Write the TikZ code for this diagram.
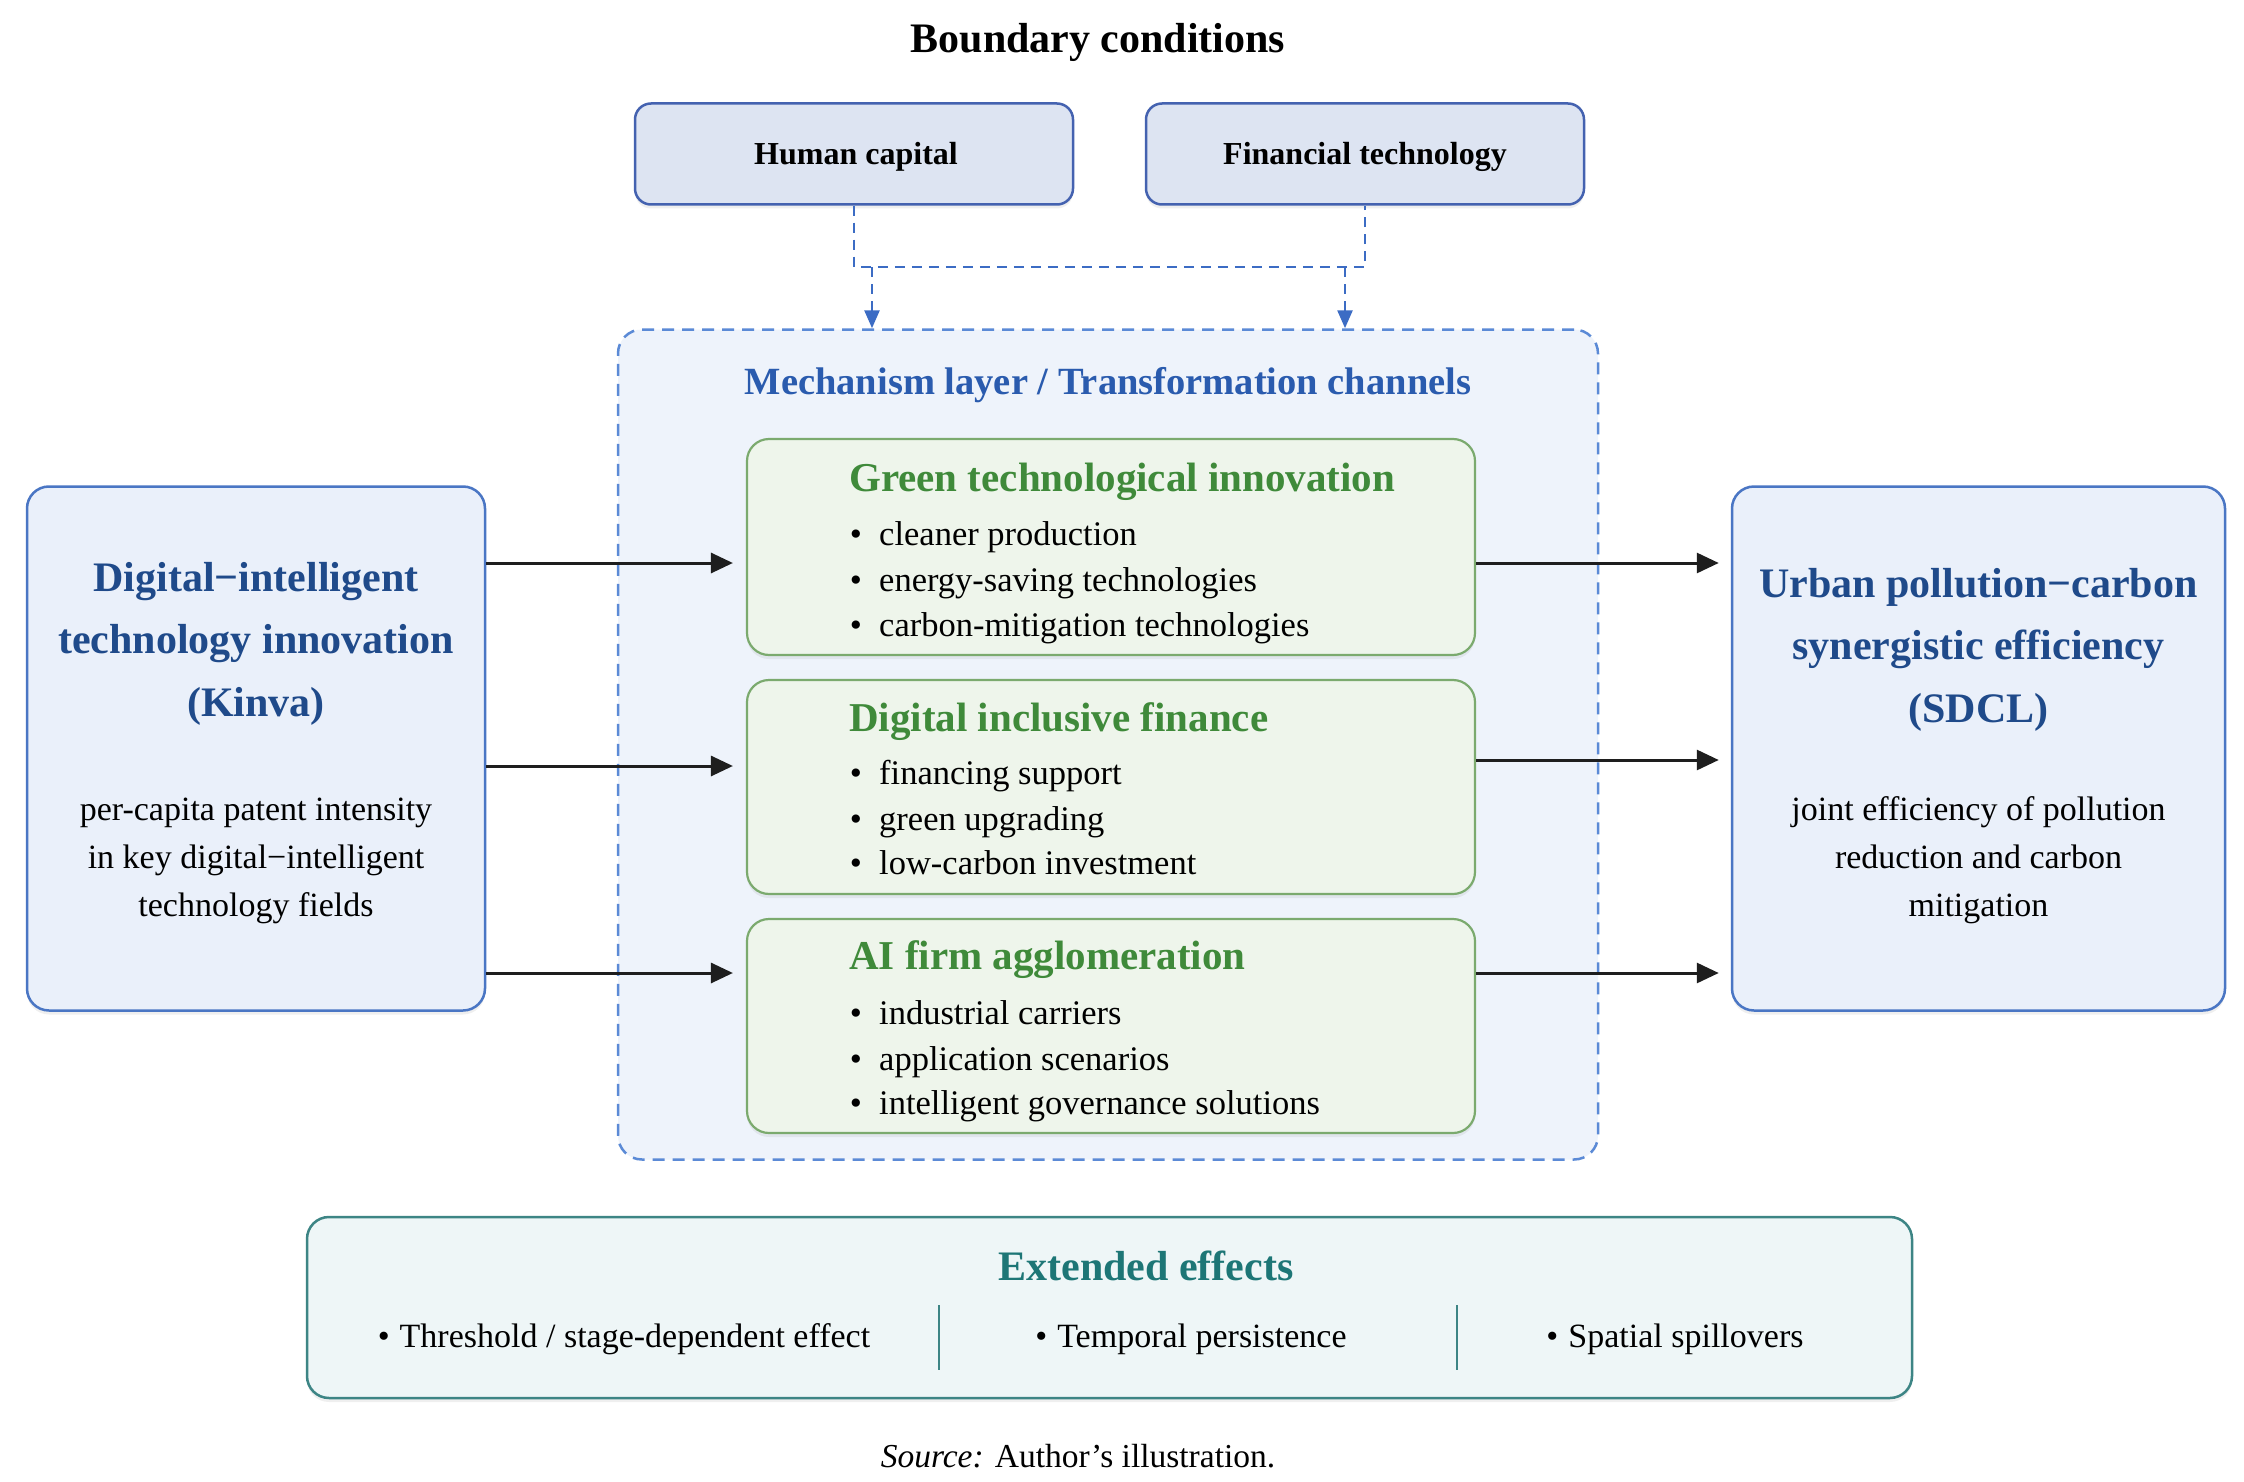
\documentclass[tikz,border=0pt]{standalone}
\usepackage{fontspec}
\setmainfont{Liberation Serif}
\usetikzlibrary{arrows.meta,shadows}
\definecolor{sideborder}{HTML}{4A76C4}
\definecolor{sidefill}{HTML}{EAF0FA}
\definecolor{topborder}{HTML}{4462B0}
\definecolor{topfill}{HTML}{DDE4F2}
\definecolor{mechborder}{HTML}{5B8AD6}
\definecolor{dashblue}{HTML}{3C6CC4}
\definecolor{mechfill}{HTML}{EEF3FB}
\definecolor{mechtitle}{HTML}{2A5BAE}
\definecolor{greenborder}{HTML}{7BAA6E}
\definecolor{greenfill}{HTML}{EEF5EB}
\definecolor{greentext}{HTML}{3F8A3A}
\definecolor{titleblue}{HTML}{1F4A8A}
\definecolor{tealborder}{HTML}{3D8585}
\definecolor{tealfill}{HTML}{EEF6F7}
\definecolor{tealtext}{HTML}{1D7676}
\definecolor{arrowc}{HTML}{1E1E1E}
\newcommand\fsz[2]{\fontsize{#1}{#2}\selectfont}
\begin{document}
\begin{tikzpicture}[x=1pt,y=-1pt,
  box/.style={draw, line width=2.5pt, rounded corners=22pt, drop shadow={opacity=0.12, shadow xshift=0pt, shadow yshift=-4pt}},
  sidebox/.style={box, draw=sideborder, fill=sidefill, minimum width=458pt, minimum height=524pt},
  topbox/.style={box, draw=topborder, fill=topfill, rounded corners=16pt, minimum width=438pt, minimum height=101pt},
  greenbox/.style={box, draw=greenborder, fill=greenfill, minimum width=728pt, line width=2.2pt},
  arr/.style={draw=arrowc, line width=3pt, -{Triangle[length=22pt,width=20pt]}},
  dsh/.style={draw=dashblue, line width=2.6pt, dash pattern=on 10pt off 7pt},
  dsharr/.style={dsh, -{Triangle[length=18pt,width=15pt]}},
  gtitle/.style={anchor=base west, inner sep=0pt, text=greentext, font=\fsz{41}{49}\bfseries},
  item/.style={anchor=base west, inner sep=0pt, font=\fsz{34.5}{42}},
  bul/.style={anchor=base, inner sep=0pt, font=\fsz{34.5}{42}},
  stitle/.style={align=center, text=titleblue, font=\fsz{42}{62.5}\bfseries, anchor=base},
  sdesc/.style={align=center, font=\fsz{34}{48}, anchor=base}
]
\path[use as bounding box, fill=white] (0,0) rectangle (2244,1482);

% title
\node[anchor=base, font=\fsz{42}{50}\bfseries] (bt) at (1098,53) {Boundary conditions};

% top boxes
\node[topbox] (hc) at (854,154) {};
\node[anchor=base, font=\fsz{32}{38}\bfseries] (hct) at (856,165) {Human capital};
\node[topbox] (fc) at (1365,154) {};
\node[anchor=base, font=\fsz{32}{38}\bfseries] (fct) at (1365,165) {Financial technology};

% mechanism box
\node[draw=mechborder, fill=mechfill, line width=2.5pt, dash pattern=on 12pt off 8pt, rounded corners=24pt, minimum width=980pt, minimum height=830pt] (mech) at (1108,744.5) {};
\node[anchor=base, text=mechtitle, font=\fsz{38.5}{46}\bfseries] (mt) at (1108,394) {Mechanism layer / Transformation channels};

% dashed connectors
\coordinate (hj) at (854,267);
\coordinate (fj) at (1365,267);
\coordinate (a1) at (872,267);
\coordinate (a2) at (1345,267);
\draw[dsh] (hc.south) -- (hj) -- (fj) -- (fc.south);
\draw[dsharr] (a1) -- (a1 |- mech.north);
\draw[dsharr] (a2) -- (a2 |- mech.north);

% green boxes
\node[greenbox, minimum height=216pt] (g1) at (1111,547) {};
\node[greenbox, minimum height=214pt] (g2) at (1111,787) {};
\node[greenbox, minimum height=214pt] (g3) at (1111,1026) {};

\node[gtitle] (g1t) at (849,491) {Green technological innovation};
\node[bul] (g1b1) at (856,545) {•}; \node[item] (g1i1) at (879,545) {cleaner production};
\node[bul] (g1b2) at (856,591) {•}; \node[item] (g1i2) at (879,591) {energy-saving technologies};
\node[bul] (g1b3) at (856,636) {•}; \node[item] (g1i3) at (879,636) {carbon-mitigation technologies};

\node[gtitle] (g2t) at (849,731) {Digital inclusive finance};
\node[bul] (g2b1) at (856,784) {•}; \node[item] (g2i1) at (879,784) {financing support};
\node[bul] (g2b2) at (856,830) {•}; \node[item] (g2i2) at (879,830) {green upgrading};
\node[bul] (g2b3) at (856,874) {•}; \node[item] (g2i3) at (879,874) {low-carbon investment};

\node[gtitle] (g3t) at (849,969) {AI firm agglomeration};
\node[bul] (g3b1) at (856,1024) {•}; \node[item] (g3i1) at (879,1024) {industrial carriers};
\node[bul] (g3b2) at (856,1070) {•}; \node[item] (g3i2) at (879,1070) {application scenarios};
\node[bul] (g3b3) at (856,1114) {•}; \node[item] (g3i3) at (879,1114) {intelligent governance solutions};

% side boxes (base anchor = baseline of the last line)
\node[sidebox] (lb) at (256,748.5) {};
\node[stitle] (lbt) at (256,716) {Digital−intelligent\\technology innovation\\(Kinva)};
\node[sdesc] (lbd) at (256,916) {per-capita patent intensity\\in key digital−intelligent\\technology fields};

\node[sidebox, minimum width=493pt] (rb) at (1978.5,748.5) {};
\node[stitle] (rbt) at (1978.5,722) {Urban pollution−carbon\\synergistic efficiency\\(SDCL)};
\node[sdesc] (rbd) at (1978.5,916) {joint efficiency of pollution\\reduction and carbon\\mitigation};

% arrows
\coordinate (r1) at (0,563);
\coordinate (r2) at (0,766);
\coordinate (r3) at (0,973);
\coordinate (s2) at (0,760);
\draw[arr, shorten >=13pt] (lb.east |- r1) -- (g1.west |- r1);
\draw[arr, shorten >=13pt] (lb.east |- r2) -- (g2.west |- r2);
\draw[arr, shorten >=13pt] (lb.east |- r3) -- (g3.west |- r3);
\draw[arr, shorten >=12pt] (g1.east |- r1) -- (rb.west |- r1);
\draw[arr, shorten >=12pt] (g2.east |- s2) -- (rb.west |- s2);
\draw[arr, shorten >=12pt] (g3.east |- r3) -- (rb.west |- r3);

% extended effects
\node[box, draw=tealborder, fill=tealfill, minimum width=1605pt, minimum height=181pt] (ext) at (1109.5,1307.5) {};
\node[anchor=base, text=tealtext, font=\fsz{42}{50}\bfseries] (extt) at (1146,1280) {Extended effects};
\node[anchor=base, font=\fsz{34}{40}] (e1) at (624,1347) {•\hspace{10pt}Threshold / stage-dependent effect};
\node[anchor=base, font=\fsz{34}{40}] (e2) at (1191,1347) {•\hspace{10pt}Temporal persistence};
\node[anchor=base, font=\fsz{34}{40}] (e3) at (1675,1347) {•\hspace{10pt}Spatial spillovers};
\coordinate (d1t) at (939,1305); \coordinate (d1b) at (939,1370);
\coordinate (d2t) at (1457,1305); \coordinate (d2b) at (1457,1370);
\draw[draw=tealborder, line width=1.8pt] (d1t) -- (d1b);
\draw[draw=tealborder, line width=1.8pt] (d2t) -- (d2b);

% source
\node[anchor=base, font=\fsz{33.5}{40}] (src) at (1078,1467) {\textit{Source:} Author’s illustration.};
\end{tikzpicture}
\end{document}
